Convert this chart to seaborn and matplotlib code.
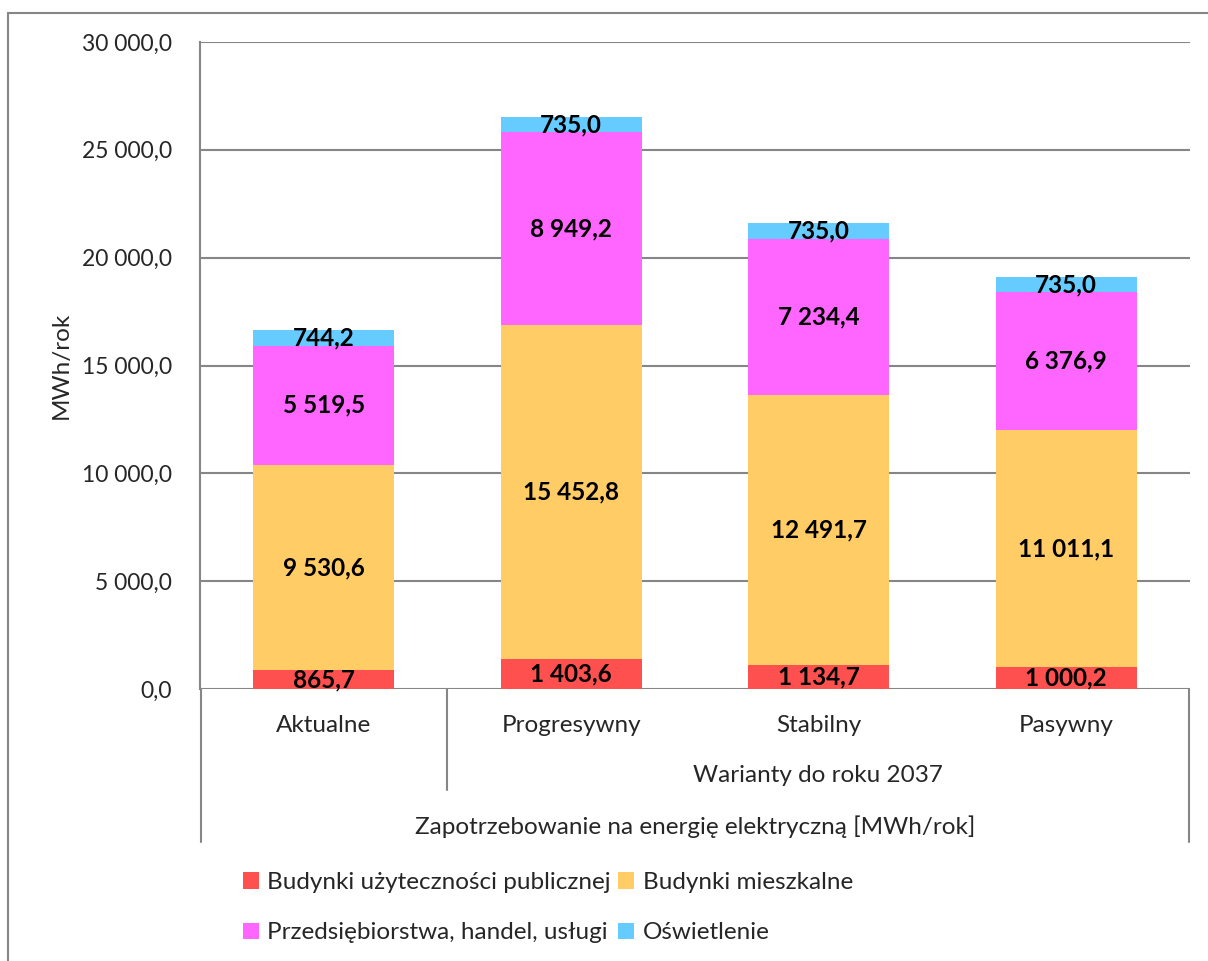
import matplotlib
matplotlib.use("Agg")
import matplotlib.pyplot as plt
import seaborn as sns
import numpy as np
from matplotlib.patches import Rectangle
from matplotlib.lines import Line2D

# --- data -------------------------------------------------------------
categories = ["Aktualne", "Progresywny", "Stabilny", "Pasywny"]
series_names = [
    "Budynki użyteczności publicznej",
    "Budynki mieszkalne",
    "Przedsiębiorstwa, handel, usługi",
    "Oświetlenie",
]
public_buildings = [865.7, 1403.6, 1134.7, 1000.2]
residential = [9530.6, 15452.8, 12491.7, 11011.1]
business = [5519.5, 8949.2, 7234.4, 6376.9]
lighting = [744.2, 735.0, 735.0, 735.0]
y_ticks = [0, 5000, 10000, 15000, 20000, 25000, 30000]
group_label = "Warianty do roku 2037"
axis_title = "Zapotrzebowanie na energię elektryczną [MWh/rok]"
y_label = "MWh/rok"

colors = ["#FF5050", "#FFCC66", "#FF66FF", "#66CCFF"]

sns.set_theme(style="white")
plt.rcParams["font.family"] = ["Lato", "DejaVu Sans"]
FS = 17.5
FS_TICK = 16.5
FS_LBL = 17.5


def fmt(v):
    return f"{v:,.1f}".replace(",", " ").replace(".", ",")


W, H = 1208, 961
fig = plt.figure(figsize=(W / 100, H / 100), dpi=100)
ax = fig.add_axes([200 / W, 1 - 689 / H, 990 / W, 647 / H])

grid_c = "#868686"
bottom = np.zeros(len(categories))
for name, vals, col in zip(series_names,
                           [public_buildings, residential, business, lighting],
                           colors):
    vals = np.array(vals)
    sns.barplot(x=categories, y=vals, bottom=bottom, color=col,
                saturation=1, width=0.57, errorbar=None, ax=ax,
                linewidth=0, zorder=3)
    for i, (b, v) in enumerate(zip(bottom, vals)):
        ax.text(i, b + v / 2, fmt(v), ha="center", va="center",
                fontsize=FS_LBL, fontweight="bold", color="black", zorder=5)
    bottom = bottom + vals

ax.set_xlim(-0.5, len(categories) - 0.5)
ax.set_ylim(0, 30000)
ax.set_yticks(y_ticks)
ax.set_yticklabels([fmt(t) for t in y_ticks], fontsize=FS_TICK)
ax.tick_params(axis="y", length=0, pad=20)
ax.set_xticks([])
ax.set_xlabel("")
ax.set_ylabel(y_label, fontsize=FS)
ax.yaxis.set_label_coords(-128 / 990, 0.5)
ax.grid(axis="y", color=grid_c, linewidth=1.5, zorder=0)
for s in ["top", "right", "bottom"]:
    ax.spines[s].set_visible(False)
ax.spines["left"].set_color(grid_c)
ax.spines["left"].set_linewidth(1.5)

# multi-level category axis drawn in figure pixel coordinates
def fx(px):
    return px / W


def fy(py):
    return 1 - py / H


line_kw = dict(color=grid_c, linewidth=1.5, transform=fig.transFigure)
fig.add_artist(Line2D([fx(201), fx(201)], [fy(689), fy(842)], **line_kw))
fig.add_artist(Line2D([fx(1189), fx(1189)], [fy(689), fy(842)], **line_kw))
fig.add_artist(Line2D([fx(447), fx(447)], [fy(689), fy(790)], **line_kw))

for i, c in enumerate(categories):
    xd = ax.transData.transform((i, 0))[0]
    xf = fig.transFigure.inverted().transform((xd, 0))[0]
    fig.text(xf, fy(725), c, ha="center", va="center", fontsize=FS)
fig.text(fx(818), fy(775), group_label, ha="center", va="center", fontsize=FS)
fig.text(fx(695), fy(827), axis_title, ha="center", va="center", fontsize=FS)

# legend: two rows of two entries
handles = [Rectangle((0, 0), 1, 1, facecolor=c, edgecolor="none") for c in colors]
order = [0, 2, 1, 3]
leg = fig.legend([handles[k] for k in order], [series_names[k] for k in order],
                 ncol=2, loc="upper left", bbox_to_anchor=(fx(243), fy(872)),
                 frameon=False, fontsize=FS, handlelength=0.65,
                 handleheight=0.65, handletextpad=0.35, columnspacing=0.3,
                 labelspacing=1.2, borderpad=0, borderaxespad=0)

# outer chart border
fig.add_artist(Rectangle((fx(8), fy(1000)), fx(1250) - fx(8), fy(13) - fy(1000),
                         transform=fig.transFigure, fill=False,
                         edgecolor=grid_c, linewidth=1.5))

fig.savefig("out.png", dpi=100, facecolor="white")
